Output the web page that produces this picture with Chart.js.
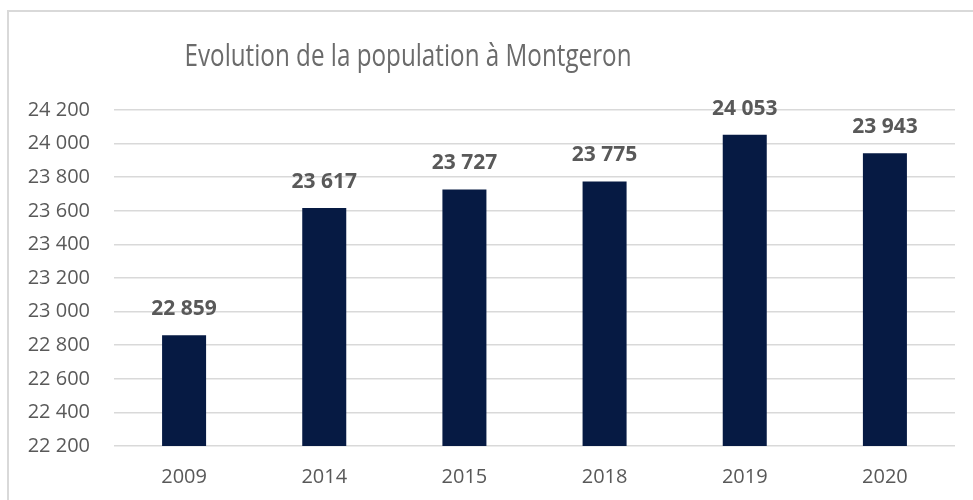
<!DOCTYPE html>
<html>
<head>
<meta charset="utf-8">
<script src="https://cdn.jsdelivr.net/npm/chart.js@4.4.1/dist/chart.umd.min.js"></script>
<style>
    html, body { margin: 0; padding: 0; background: #fff; }
    #wrap { position: relative; width: 973px; height: 500px; overflow: hidden; }
    #frame {
        position: absolute; left: 7px; top: 10px; width: 1200px; height: 600px;
        border-left: 2px solid #d9d9d9; border-top: 2px solid #d9d9d9;
    }
    canvas { position: absolute; left: 0; top: 0; }
</style>
</head>
<body>
<div id="wrap">
    <div id="frame"></div>
    <canvas id="chart" width="973" height="500"></canvas>
</div>
<script>
// Chart data
const titleText = 'Evolution de la population à Montgeron';
const years = ['2009', '2014', '2015', '2018', '2019', '2020'];
const population = [22859, 23617, 23727, 23775, 24053, 23943];
const yMin = 22200;
const yMax = 24200;
const yStep = 200;

const textColor = '#595959';
const fontFamily = '"Open Sans", "Liberation Sans", sans-serif';

// French style thousands separator (space)
function formatNumber(v) {
    return String(Math.round(v)).replace(/\B(?=(\d{3})+(?!\d))/g, ' ');
}

// Title drawn on the centre of the whole (wider) Excel chart object
const titlePlugin = {
    id: 'excelTitle',
    afterDraw(chart) {
        const ctx = chart.ctx;
        ctx.save();
        ctx.font = '400 31px ' + fontFamily;
        ctx.fillStyle = '#6b6b6b';
        ctx.textBaseline = 'middle';
        ctx.textAlign = 'center';
        const w = ctx.measureText(titleText).width;
        const target = 447;
        const sx = Math.min(1, target / w);
        ctx.translate(408, 57);
        ctx.scale(sx, 1);
        ctx.fillText(titleText, 0, 0);
        ctx.restore();
    }
};

// Bold value labels above each bar
const valueLabels = {
    id: 'valueLabels',
    afterDatasetsDraw(chart) {
        const ctx = chart.ctx;
        const meta = chart.getDatasetMeta(0);
        ctx.save();
        ctx.font = 'bold 21px ' + fontFamily;
        ctx.fillStyle = textColor;
        ctx.textAlign = 'center';
        ctx.textBaseline = 'middle';
        meta.data.forEach((bar, i) => {
            ctx.fillText(formatNumber(population[i]), bar.x, bar.y - 26);
        });
        ctx.restore();
    }
};

new Chart(document.getElementById('chart'), {
    type: 'bar',
    data: {
        labels: years,
        datasets: [{
            data: population,
            backgroundColor: '#061a43',
            borderWidth: 0,
            barPercentage: 1,
            categoryPercentage: 0.314
        }]
    },
    options: {
        responsive: false,
        animation: false,
        layout: {
            padding: { left: 0, right: 18, top: 110, bottom: 0 }
        },
        plugins: {
            legend: { display: false },
            title: { display: false },
            tooltip: { enabled: false }
        },
        scales: {
            x: {
                grid: { display: false, drawTicks: false },
                border: { display: false },
                ticks: {
                    color: textColor,
                    font: { family: fontFamily, size: 20 },
                    padding: 19
                },
                afterFit(scale) { scale.height = 54; }
            },
            y: {
                min: yMin,
                max: yMax,
                grid: { color: '#d9d9d9', lineWidth: 1.5, drawTicks: false },
                border: { display: false },
                ticks: {
                    stepSize: yStep,
                    color: textColor,
                    font: { family: fontFamily, size: 20 },
                    padding: 24,
                    callback: v => formatNumber(v)
                },
                afterFit(scale) { scale.width = 114; }
            }
        }
    },
    plugins: [titlePlugin, valueLabels]
});
</script>
</body>
</html>
